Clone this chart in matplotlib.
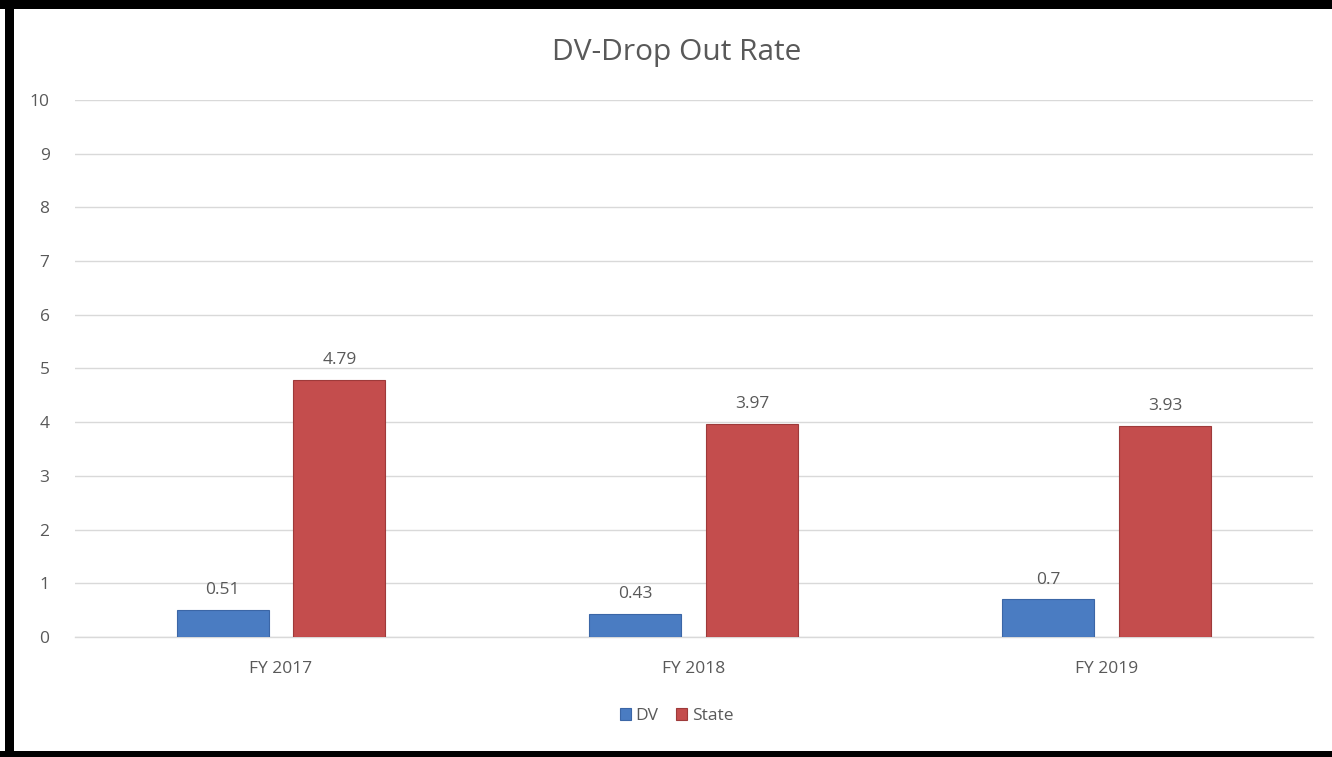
import numpy as np
import matplotlib
matplotlib.use("Agg")
import matplotlib.pyplot as plt
from matplotlib.patches import Rectangle

plt.rcParams["font.family"] = ["Open Sans", "DejaVu Sans"]

# ---------------------------------------------------------
# Data
# ---------------------------------------------------------

years = ["FY 2017", "FY 2018", "FY 2019"]
dv_rate = [0.51, 0.43, 0.7]
state_rate = [4.79, 3.97, 3.93]
series_names = ["DV", "State"]

text_grey = "#595959"
grid_grey = "#d9d9d9"
blue = "#4a7cc2"
red = "#c44d4d"

W, H = 1332, 757

# ---------------------------------------------------------
# Figure
# ---------------------------------------------------------

fig = plt.figure(figsize=(W / 100, H / 100), dpi=100)
ax = fig.add_axes([0.056, 0.1585, 0.9297, 0.7095])

x = np.arange(len(years))
width = 0.223
offset = 0.1415

bars_dv = ax.bar(
    x - offset, dv_rate, width,
    color=blue, edgecolor="#3b66a6", linewidth=0.8,
    label=series_names[0], zorder=3,
)
bars_state = ax.bar(
    x + offset, state_rate, width,
    color=red, edgecolor="#9e3a3a", linewidth=0.8,
    label=series_names[1], zorder=3,
)

for bars, vals in ((bars_dv, dv_rate), (bars_state, state_rate)):
    for b, v in zip(bars, vals):
        ax.text(
            b.get_x() + b.get_width() / 2, v + 0.22, f"{v:g}",
            ha="center", va="bottom", fontsize=12.5, color=text_grey,
        )

ax.set_xlim(-0.5, len(years) - 0.5)
ax.set_ylim(0, 10)
ax.set_yticks(range(0, 11))
ax.set_xticks(x)
ax.set_xticklabels(years)

ax.yaxis.grid(True, color=grid_grey, linewidth=1, zorder=0)
ax.set_axisbelow(True)
for side in ("top", "right", "left"):
    ax.spines[side].set_visible(False)
ax.spines["bottom"].set_color(grid_grey)
ax.spines["bottom"].set_linewidth(1)

ax.tick_params(axis="both", length=0, labelsize=12.5, colors=text_grey)
ax.tick_params(axis="y", pad=18)
ax.tick_params(axis="x", pad=17)

fig.text(0.508, 0.931, "DV-Drop Out Rate", fontsize=21.5, color=text_grey,
         ha="center", va="center")

fig.legend(
    handles=[bars_dv, bars_state], labels=series_names,
    loc="center", bbox_to_anchor=(0.508, 0.054), ncol=2, frameon=False,
    fontsize=12.5, labelcolor=text_grey, handlelength=0.6, handleheight=0.6,
    handletextpad=0.3, columnspacing=1.0,
)

# black frame around the chart (left, top, bottom)
for x0, y0, w, h in ((5, 0, 9, H), (0, H - 9, W, 9), (0, 0, W, 6)):
    fig.patches.append(Rectangle(
        (x0 / W, y0 / H), w / W, h / H, transform=fig.transFigure,
        facecolor="black", edgecolor="none", zorder=10,
    ))

fig.savefig("out.png", dpi=100)
